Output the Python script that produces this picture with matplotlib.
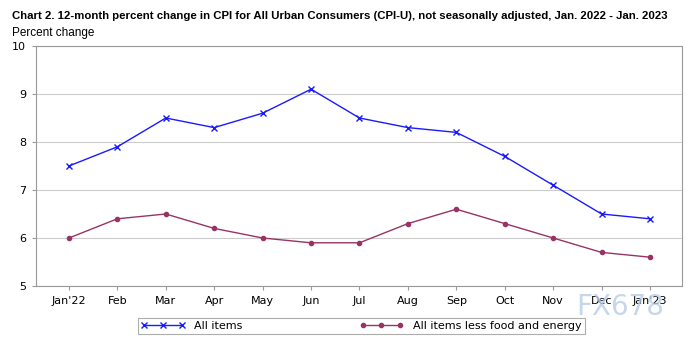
import matplotlib.pyplot as plt

months = ["Jan'22", "Feb", "Mar", "Apr", "May", "Jun", "Jul", "Aug", "Sep", "Oct", "Nov", "Dec", "Jan'23"]
all_items = [7.5, 7.9, 8.5, 8.3, 8.6, 9.1, 8.5, 8.3, 8.2, 7.7, 7.1, 6.5, 6.4]
core = [6.0, 6.4, 6.5, 6.2, 6.0, 5.9, 5.9, 6.3, 6.6, 6.3, 6.0, 5.7, 5.6]

plt.rcParams['font.family'] = ['DejaVu Sans']
title_font = ['Liberation Sans', 'DejaVu Sans']

fig = plt.figure(figsize=(6.96, 3.41), dpi=100)
ax = fig.add_axes([36 / 696, 1 - 286 / 341, 646 / 696, 240 / 341])

x = list(range(len(months)))
l1, = ax.plot(x, all_items, color='#1a1aff', lw=1, marker='x', ms=5, mew=1)
l2, = ax.plot(x, core, color='#993366', lw=1, marker='o', ms=3)

ax.set_xlim(-0.68, 12.66)
ax.set_ylim(5, 10)
ax.set_yticks([5, 6, 7, 8, 9, 10])
ax.set_xticks(x)
ax.set_xticklabels(months)
ax.tick_params(labelsize=8, length=3, color='#999999', pad=4)
ax.yaxis.grid(True, color='#cccccc', lw=0.8)
ax.set_axisbelow(True)
for s in ax.spines.values():
    s.set_color('#999999')

title = fig.text(12 / 696, 1 - 16 / 341, "Chart 2. 12-month percent change in CPI for All Urban Consumers (CPI-U), not seasonally adjusted, Jan. 2022 - Jan. 2023",
                 fontsize=8, fontweight='bold', va='center', ha='left', family=title_font)
# fit the title to the width the reference uses (about 660 px)
fig.canvas.draw()
w = title.get_window_extent().width
title.set_fontsize(8 * 660 / w)

fig.text(12 / 696, 1 - 33 / 341, "Percent change", fontsize=8.5, va='center', ha='left', family=title_font)

leg = fig.legend([l1, l2], ["All items", "All items less food and energy"],
                 loc='center', bbox_to_anchor=(361 / 696, 1 - 326 / 341), ncol=2,
                 fontsize=8, frameon=True, fancybox=False, edgecolor='#999999',
                 columnspacing=10.5, handlelength=4, numpoints=3, borderpad=0.3)
leg.get_frame().set_linewidth(0.8)

# watermark
fig.text(620 / 696, 1 - 307 / 341, "FX678", fontsize=20, color='#b8cde6', alpha=0.8,
         ha='center', va='center')

fig.savefig('out.png', dpi=100)
